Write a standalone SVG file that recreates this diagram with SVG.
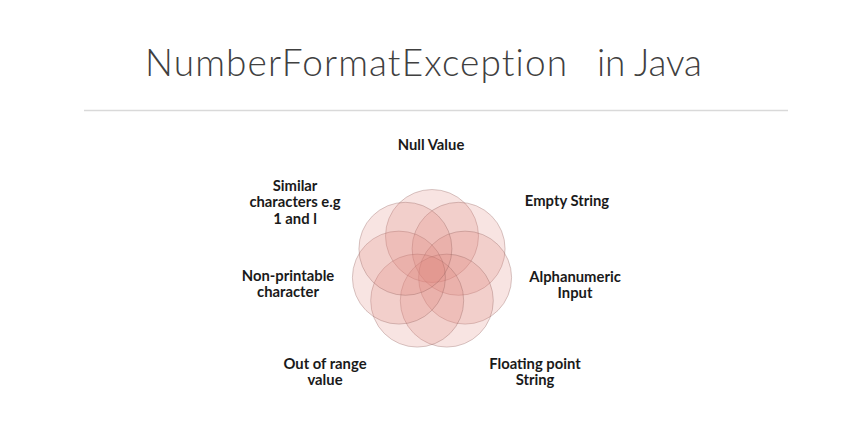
<svg xmlns="http://www.w3.org/2000/svg" width="861" height="432" viewBox="0 0 861 432">
<style>
.title{font-family:Lato,"Liberation Sans",sans-serif;font-weight:300;font-size:37px;fill:#404040;font-variant-ligatures:none;font-feature-settings:"liga" 0,"dlig" 0,"clig" 0}
.lbl{font-family:Lato,"Liberation Sans",sans-serif;font-weight:700;font-size:14.8px;fill:#1a1a1a;text-anchor:middle}
.c{fill:#DE827D;fill-opacity:0.22;stroke:#8a5a58;stroke-opacity:0.36;stroke-width:0.9}
</style>
<rect width="861" height="432" fill="#ffffff"/>
<g id="title">
<text class="title" x="145" y="76" textLength="422" lengthAdjust="spacing">NumberFormatExcep<tspan>t</tspan>ion</text>
<text class="title" x="597" y="76" textLength="105" lengthAdjust="spacing">in Java</text>
</g>
<line x1="84" y1="110.5" x2="788" y2="110.5" stroke="#D9D9D9" stroke-width="1.5"/>
<g id="venn">
<g id="n1"><circle class="c" cx="432" cy="236" r="46.5"/></g>
<g id="n2"><circle class="c" cx="458.6" cy="248.8" r="46.5"/></g>
<g id="n3"><circle class="c" cx="465.1" cy="277.6" r="46.5"/></g>
<g id="n4"><circle class="c" cx="446.8" cy="300.6" r="46.5"/></g>
<g id="n5"><circle class="c" cx="417.2" cy="300.6" r="46.5"/></g>
<g id="n6"><circle class="c" cx="398.9" cy="277.6" r="46.5"/></g>
<g id="n7"><circle class="c" cx="405.4" cy="248.8" r="46.5"/></g>
</g>
<g id="labels">
<g id="l1"><text class="lbl" x="431" y="150">Null Value</text></g>
<g id="l2"><text class="lbl" x="567" y="206">Empty String</text></g>
<g id="l3"><text class="lbl" x="575" y="281.5">Alphanumeric</text><text class="lbl" x="575" y="298">Input</text></g>
<g id="l4"><text class="lbl" x="535" y="368.5">Floating point</text><text class="lbl" x="535" y="385">String</text></g>
<g id="l5"><text class="lbl" x="325" y="368.5">Out of range</text><text class="lbl" x="325" y="385">value</text></g>
<g id="l6"><text class="lbl" x="288" y="280.5">Non-printable</text><text class="lbl" x="288" y="297">character</text></g>
<g id="l7"><text class="lbl" x="295" y="190.5">Similar</text><text class="lbl" x="295" y="207.3">characters e.g</text><text class="lbl" x="295" y="224">1 and l</text></g>
</g>
</svg>
